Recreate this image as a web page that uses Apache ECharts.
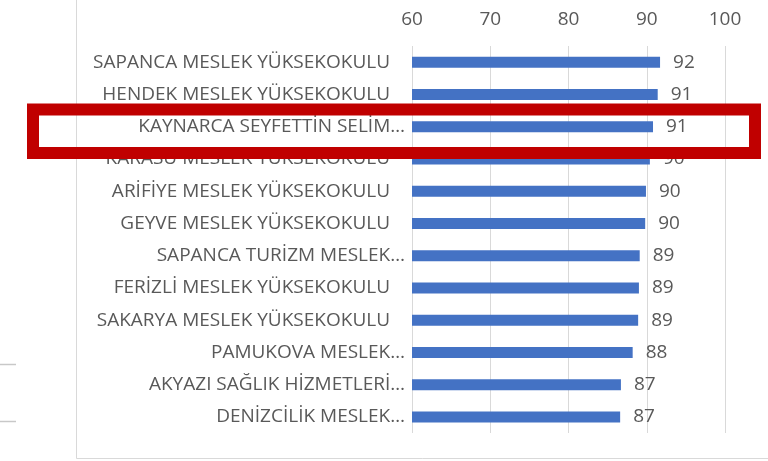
<!DOCTYPE html>
<html>
<head>
<meta charset="utf-8">
<script src="https://cdn.jsdelivr.net/npm/echarts@6/dist/echarts.min.js"></script>
<style>
  html, body { margin: 0; padding: 0; background: #fff; }
  #chart { width: 768px; height: 461px; }
</style>
</head>
<body>
<div id="chart"></div>
<script>
// okullar (yukaridan asagiya)
var categories = [
    'SAPANCA MESLEK YÜKSEKOKULU',
    'HENDEK MESLEK YÜKSEKOKULU',
    'KAYNARCA SEYFETTİN SELİM…',
    'KARASU MESLEK YÜKSEKOKULU',
    'ARİFİYE MESLEK YÜKSEKOKULU',
    'GEYVE MESLEK YÜKSEKOKULU',
    'SAPANCA TURİZM MESLEK…',
    'FERİZLİ MESLEK YÜKSEKOKULU',
    'SAKARYA MESLEK YÜKSEKOKULU',
    'PAMUKOVA MESLEK…',
    'AKYAZI SAĞLIK HİZMETLERİ…',
    'DENİZCİLİK MESLEK…'
];
var scores = [91.7, 91.4, 90.8, 90.4, 89.9, 89.8, 89.1, 89.0, 88.9, 88.2, 86.7, 86.6];
var axisTicks = [60, 70, 80, 90, 100];

var textColor = '#595959';
var fontName = 'Open Sans';
var fontSize = 19;

var myChart = echarts.init(document.getElementById('chart'));

var option = {
    animation: false,
    backgroundColor: '#fff',
    grid: {
        left: 412,
        width: 313,
        top: 46,
        height: 387
    },
    xAxis: {
        type: 'value',
        position: 'top',
        min: axisTicks[0],
        max: axisTicks[axisTicks.length - 1],
        interval: 10,
        axisLine: { show: false },
        axisTick: { show: false },
        axisLabel: {
            color: textColor,
            fontFamily: fontName,
            fontSize: fontSize,
            margin: 17
        },
        splitLine: {
            lineStyle: { color: '#d9d9d9', width: 1 }
        }
    },
    yAxis: {
        type: 'category',
        inverse: true,
        data: categories,
        axisLine: { show: false },
        axisTick: { show: false },
        axisLabel: {
            color: textColor,
            fontFamily: fontName,
            fontSize: fontSize,
            margin: 7,
            // kisaltilmis etiketlerde "…" biraz disari tasiyor
            formatter: function(v) {
                return v.slice(-1) === '…' ? '{c|' + v + '}' : '{f|' + v + '}';
            },
            rich: {
                f: { color: textColor, fontFamily: fontName, fontSize: fontSize, padding: [0, 15, 0, 0] },
                c: { color: textColor, fontFamily: fontName, fontSize: fontSize }
            }
        }
    },
    series: [{
        type: 'bar',
        data: scores,
        barWidth: 11,
        itemStyle: { color: '#4472C4' },
        label: {
            show: true,
            position: 'right',
            distance: 13,
            color: textColor,
            fontFamily: fontName,
            fontSize: fontSize,
            formatter: function(p) {
                return Math.round(p.value);
            }
        }
    }],
    graphic: [
        // cerceve
        {
            type: 'rect',
            shape: { x: 76.5, y: -10, width: 720, height: 468.5 },
            style: { fill: null, stroke: '#d9d9d9', lineWidth: 1 },
            silent: true
        },
        // soldaki parcalar
        {
            type: 'line',
            shape: { x1: 0, y1: 364.5, x2: 16, y2: 364.5 },
            style: { stroke: '#c8c8c8', lineWidth: 1.5 },
            silent: true
        },
        {
            type: 'line',
            shape: { x1: 0, y1: 421.5, x2: 16, y2: 421.5 },
            style: { stroke: '#c8c8c8', lineWidth: 1.5 },
            silent: true
        },
        // kirmizi vurgu kutusu
        {
            type: 'rect',
            z: 100,
            shape: { x: 33, y: 109.5, width: 722, height: 43.5 },
            style: { fill: null, stroke: '#C00000', lineWidth: 12 },
            silent: true
        }
    ]
};

myChart.setOption(option);
</script>
</body>
</html>
